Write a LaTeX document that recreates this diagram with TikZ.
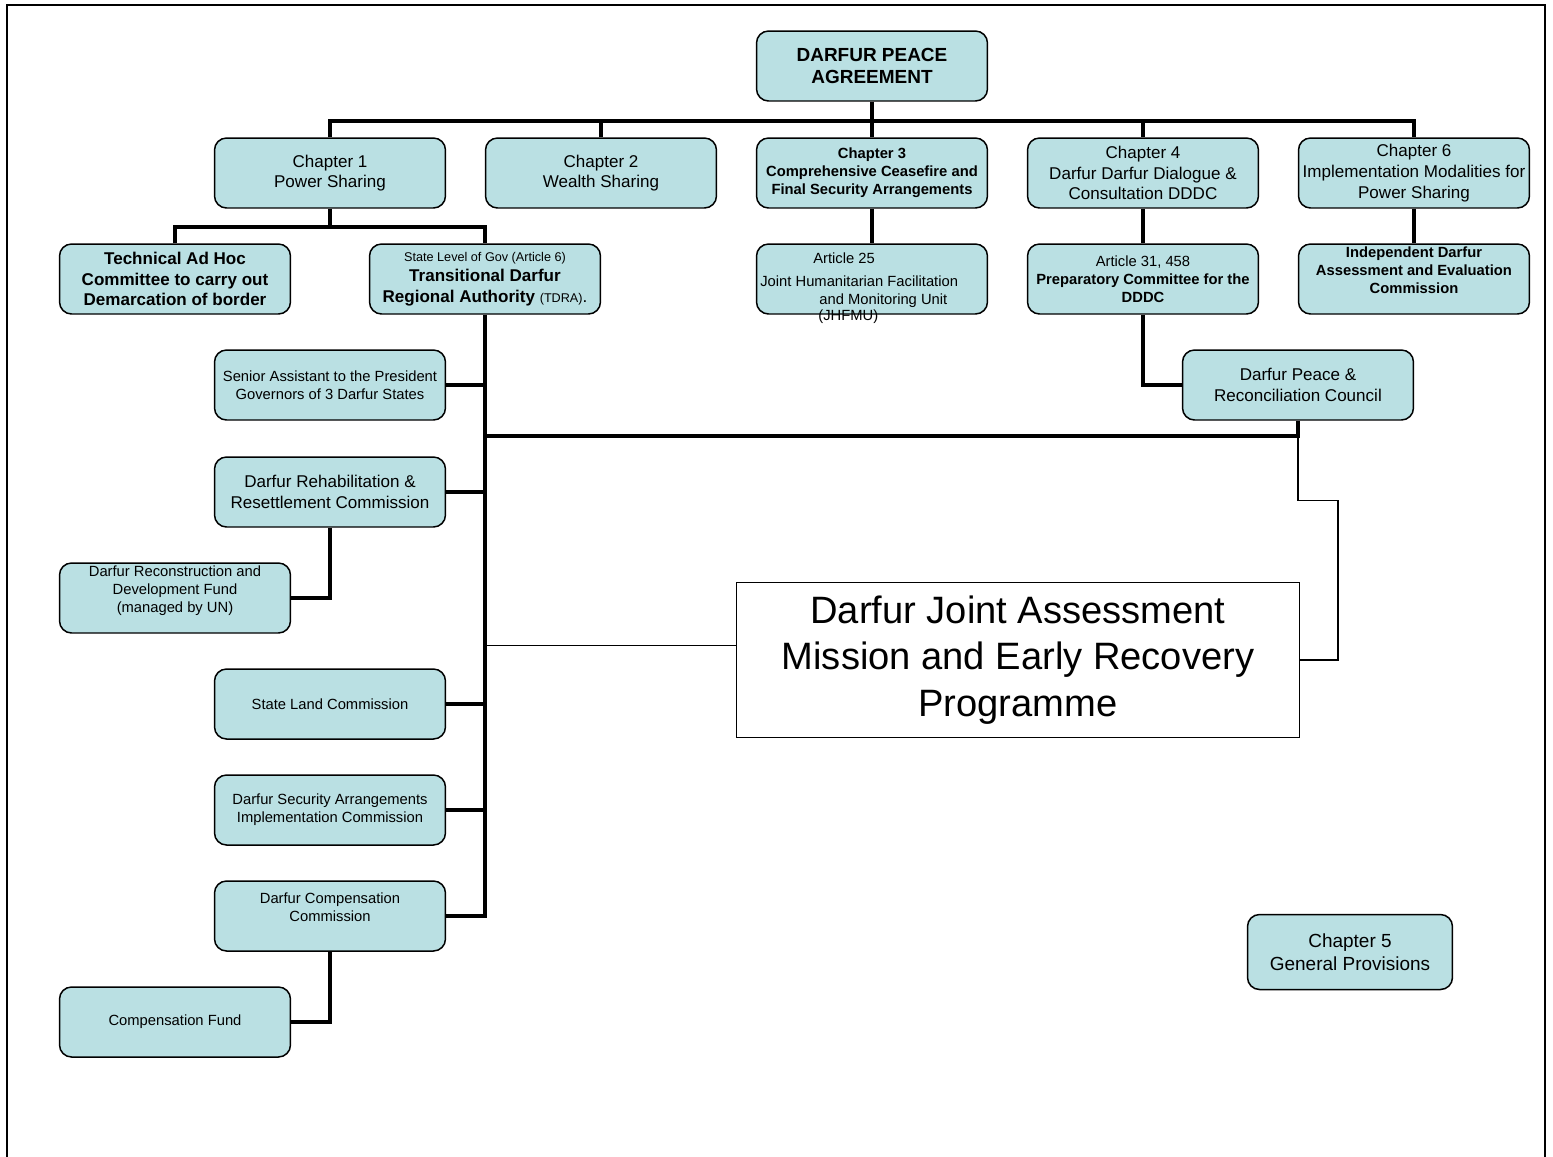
\documentclass[tikz,border=0pt]{standalone}
\usepackage{fontspec}
\setmainfont{Liberation Sans}
\usepackage{xcolor}
\definecolor{boxfill}{RGB}{186,224,227}

\begin{document}
\begin{tikzpicture}[x=0.02cm, y=-0.02cm,
    box/.style={draw=black, line width=0.85pt, rounded corners=0.24cm, fill=boxfill,
      minimum width=4.62cm, minimum height=1.4cm, inner sep=1pt, align=center,
      font=\fontsize{9.7}{11.8}\selectfont},
    small/.style={font=\fontsize{8.4}{10.2}\selectfont},
    bsmall/.style={font=\fontsize{8.4}{10.2}\selectfont\bfseries},
    bus/.style={line width=2.3pt},
    link/.style={line width=0.6pt}]

            \useasboundingbox (0,0) rectangle (1553,1157);

            %% frame
            \draw[line width=1.2pt] (7,1157) -- (7,5) -- (1545,5) -- (1545,1157);

            %% agreement and chapters
            \node[box, font=\fontsize{10.8}{12.5}\selectfont\bfseries] (dpa) at (872,66) {DARFUR PEACE\\AGREEMENT};
            \node[box] (ch1) at (330,173)  {Chapter 1\\Power Sharing};
            \node[box] (ch2) at (601,173)  {Chapter 2\\Wealth Sharing};
            \node[box, bsmall] (ch3) at (872,173)  {Chapter 3\\Comprehensive Ceasefire and\\Final Security Arrangements};
            \node[box] (ch4) at (1143,173) {Chapter 4\\Darfur Darfur Dialogue \&\\Consultation DDDC};
            \node[box] (ch6) at (1414,173) {Chapter 6\\Implementation Modalities for\\Power Sharing};

            %% second row
            \node[box, font=\fontsize{9.7}{11.6}\selectfont\bfseries] (tech) at (175,279) {Technical Ad Hoc\\Committee to carry out\\Demarcation of border};
            \node[box] (tdra) at (485,279) {{\fontsize{7.2}{9}\selectfont State Level of Gov (Article 6)}\\\textbf{Transitional Darfur}\\\textbf{Regional Authority} {\fontsize{7.2}{9}\selectfont (TDRA)}.};
            \node[box] (art25) at (872,279) {};
            \node[small, align=left, anchor=north west, inner sep=0pt] (art25txt) at (760,252)
                {\hspace*{1.06cm}Article 25\\[3.4pt]Joint Humanitarian Facilitation\\\hspace*{1.18cm}and Monitoring Unit\\[-1.1pt]\hspace*{1.16cm}(JHFMU)};
            \node[box, small] (art31) at (1143,279) {Article 31, 458\\\textbf{Preparatory Committee for the}\\\textbf{DDDC}};
            \node[box, bsmall] (idaec) at (1414,279) {Independent Darfur\\Assessment and Evaluation\\Commission\\\mbox{}};

            %% TDRA bodies
            \node[box, small] (senior) at (330,385) {Senior Assistant to the President\\Governors of 3 Darfur States};
            \node[box] (rehab)  at (330,492) {Darfur Rehabilitation \&\\Resettlement Commission};
            \node[box, small] (recon)  at (175,598) {Darfur Reconstruction and\\Development Fund\\(managed by UN)\\\mbox{}};
            \node[box, small] (land)   at (330,704) {State Land Commission};
            \node[box, small] (secur)  at (330,810) {Darfur Security Arrangements\\Implementation Commission};
            \node[box, small] (ccomm)  at (330,916) {Darfur Compensation\\Commission\\\mbox{}};
            \node[box, small] (cfund)  at (175,1022) {Compensation Fund};

            %% council, JAM, chapter 5
            \node[box] (dprc) at (1298,385) {Darfur Peace \&\\Reconciliation Council};
            \node[draw=black, line width=0.6pt, fill=white, minimum width=11.26cm, minimum height=3.1cm,
                  align=center, font=\fontsize{21.7}{26.6}\selectfont] (jam) at (1018,660)
                  {Darfur Joint Assessment\\Mission and Early Recovery\\Programme};
            \node[box, minimum width=4.1cm, minimum height=1.5cm, font=\fontsize{10.8}{13}\selectfont] (ch5) at (1350,952) {Chapter 5\\General Provisions};

            %% top bus
            \draw[bus] (dpa.south) -- ++(0,19) coordinate (topbus);
            \draw[bus] (ch1.north) |- (topbus) -| (ch6.north);
            \foreach \c in {ch2,ch3,ch4} \draw[bus] (\c.north) -- (\c.north |- topbus);

            % chapter 1
            \draw[bus] (ch1.south) -- ++(0,18) coordinate (ch1bus);
            \draw[bus] (tech.north) |- (ch1bus) -| (tdra.north);

            % chapters 3, 4, 6
            \draw[bus] (ch3) -- (art25);
            \draw[bus] (ch4) -- (art31);
            \draw[bus] (ch6) -- (idaec);
            \draw[bus] (art31.south) |- (dprc.west);

            % TDRA spine
            \draw[bus] (tdra.south) |- (ccomm.east);
            \foreach \b in {senior,rehab,land,secur} \draw[bus] (\b.east) -- (\b.east -| tdra.south);
            \draw[bus] (rehab.south) |- (recon.east);
            \draw[bus] (ccomm.south) |- (cfund.east);

            % council
            \draw[bus] (dprc.south) -- ++(0,15) coordinate (dprcbus) -- (dprcbus -| tdra.south);
            \draw[link] (dprcbus) -- ++(0,65) -- ++(40,0) |- (jam.east);
            \draw[link] (jam.177) -- (jam.177 -| tdra.south);

\end{tikzpicture}
\end{document}
